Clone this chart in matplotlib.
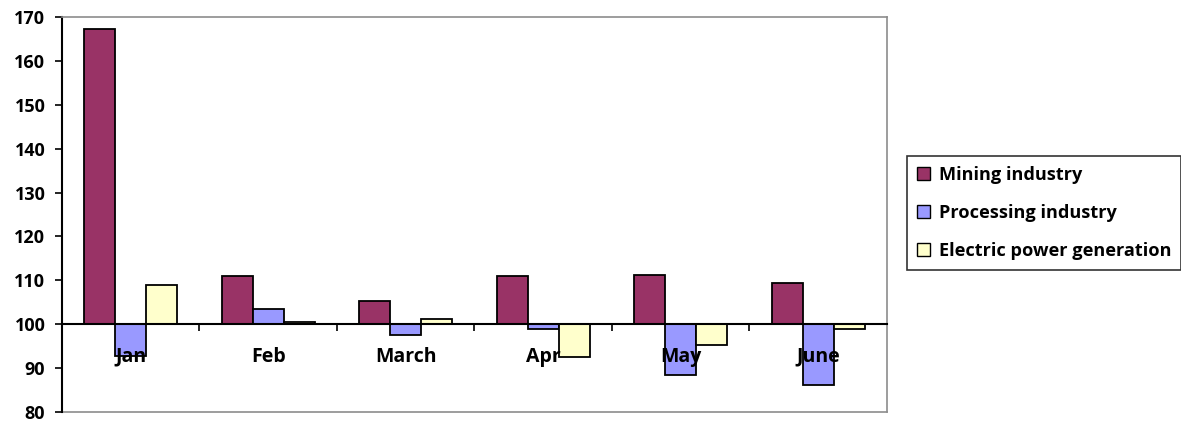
import numpy as np
import matplotlib
matplotlib.use("Agg")
import matplotlib.pyplot as plt
from matplotlib.patches import Patch

months = ["Jan", "Feb", "March", "Apr", "May", "June"]
mining = [167.2, 110.9, 105.4, 110.9, 111.3, 109.4]
processing = [92.7, 103.5, 97.5, 99.0, 88.4, 86.2]
electric = [109.0, 100.4, 101.3, 92.6, 95.3, 98.9]

series = [
    ("Mining industry", mining, "#993366"),
    ("Processing industry", processing, "#9999FF"),
    ("Electric power generation", electric, "#FFFFCC"),
]

base = 100
plt.rcParams["font.family"] = ["Open Sans", "DejaVu Sans"]
plt.rcParams["font.weight"] = "bold"

fig = plt.figure(figsize=(11.81, 4.21), dpi=100)
ax = fig.add_axes([0.0525, 0.0214, 0.6985, 0.9382])

x = np.arange(len(months))
w = 0.226
handles = []
for k, (name, vals, color) in enumerate(series):
    heights = np.array(vals) - base
    ax.bar(x + (k - 1) * w, heights, width=w, bottom=base, color=color,
           edgecolor="black", linewidth=1.3, zorder=2)
    handles.append(Patch(facecolor=color, edgecolor="black", linewidth=1.0, label=name))

ax.set_xlim(-0.5, len(months) - 0.5)
ax.set_ylim(80, 170)
ax.set_yticks(range(80, 171, 10))
ax.tick_params(axis="y", direction="out", length=5, width=1.2, labelsize=13, pad=7)
for lbl in ax.get_yticklabels():
    lbl.set_fontweight("bold")

# category axis crosses at 100
ax.spines["bottom"].set_position(("data", base))
ax.spines["bottom"].set_linewidth(1.5)
ax.spines["bottom"].set_zorder(3)
ax.spines["left"].set_linewidth(1.5)
for s in ("top", "right"):
    ax.spines[s].set_color("#8c8c8c")
    ax.spines[s].set_linewidth(1.2)
ax.plot([-0.5, len(months) - 0.5], [80, 80], color="#8c8c8c", lw=1.2,
        clip_on=False, zorder=1)

ax.set_xticks(np.arange(0.5, len(months) - 0.5, 1.0))
ax.set_xticklabels([])
ax.tick_params(axis="x", direction="out", length=5, width=1.2)

for i, m in enumerate(months):
    ax.text(i, 92.6, m, ha="center", va="center", fontsize=14,
            fontweight="bold", zorder=5)

leg = fig.legend(handles=handles, loc="upper left", bbox_to_anchor=(0.768, 0.630),
                 borderaxespad=0, frameon=True, fancybox=False, edgecolor="black",
                 prop={"size": 13.1, "weight": "bold"},
                 handlelength=0.7, handleheight=0.7, handletextpad=0.5,
                 labelspacing=1.1, borderpad=0.55)
leg.get_frame().set_linewidth(1.2)

fig.savefig("out.png", dpi=100)
